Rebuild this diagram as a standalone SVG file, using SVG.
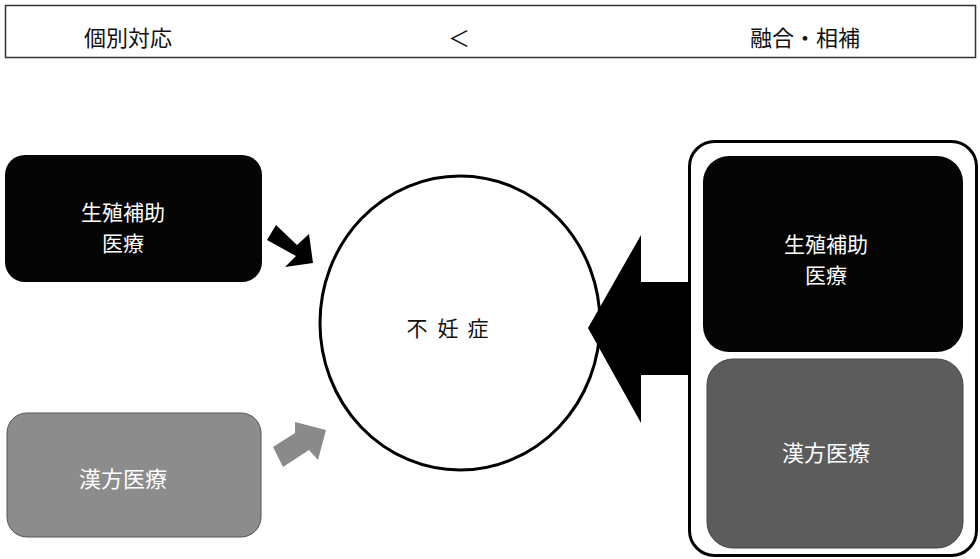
<svg xmlns="http://www.w3.org/2000/svg" width="980" height="559" viewBox="0 0 980 559">
<style>
text{font-family:"Noto Sans CJK JP","Noto Sans CJK SC",sans-serif;font-size:22px;text-anchor:middle;dominant-baseline:central}
.w{fill:#fff}
.k{fill:#111}
.two{font-size:21px}
</style>
<rect width="980" height="559" fill="#fff"/>
<g id="header">
<rect x="5.5" y="5.5" width="970" height="52" fill="#fff" stroke="#333" stroke-width="1.5"/>
<text class="k" x="128" y="36">個別対応</text>
<text class="k" x="459" y="36">＜</text>
<text class="k" x="805" y="36">融合・相補</text>
</g>
<g id="art-left">
<rect x="5" y="155" width="257" height="127" rx="20" fill="#050505"/>
<text class="w two"><tspan x="123" y="211">生殖補助</tspan><tspan x="123" y="242">医療</tspan></text>
</g>
<g id="kampo-left">
<rect x="7" y="413" width="254" height="124" rx="20" fill="#8c8c8c" stroke="#555" stroke-width="1"/>
<text class="w" x="123" y="477">漢方医療</text>
</g>
<g id="infertility">
<ellipse cx="460" cy="323" rx="140" ry="147" fill="#fff" stroke="#000" stroke-width="3"/>
<text class="k" style="font-size:21px"><tspan x="417" y="327">不</tspan><tspan x="448" y="327">妊</tspan><tspan x="478" y="327">症</tspan></text>
</g>
<g id="combined">
<rect x="689.5" y="141.5" width="287" height="414" rx="25" fill="#fff" stroke="#000" stroke-width="3"/>
<g id="art-right">
<rect x="703" y="156" width="260" height="196" rx="26" fill="#050505"/>
<text class="w two"><tspan x="826" y="243">生殖補助</tspan><tspan x="826" y="274">医療</tspan></text>
</g>
<g id="kampo-right">
<rect x="707" y="359" width="256" height="189" rx="26" fill="#5c5c5c" stroke="#444" stroke-width="1"/>
<text class="w" x="826" y="451">漢方医療</text>
</g>
</g>
<g id="connectors">
<polygon points="276,225 297,245 309,234 313,263 285,267 296,256 267,240" fill="#000"/>
<polygon points="273,447 295,433 295,422 326,430 318,460 309,450 283,467" fill="#8a8a8a"/>
<polygon points="588,328 641,235 641,282 690,282 690,375 641,375 641,423" fill="#000"/>
</g>
</svg>
